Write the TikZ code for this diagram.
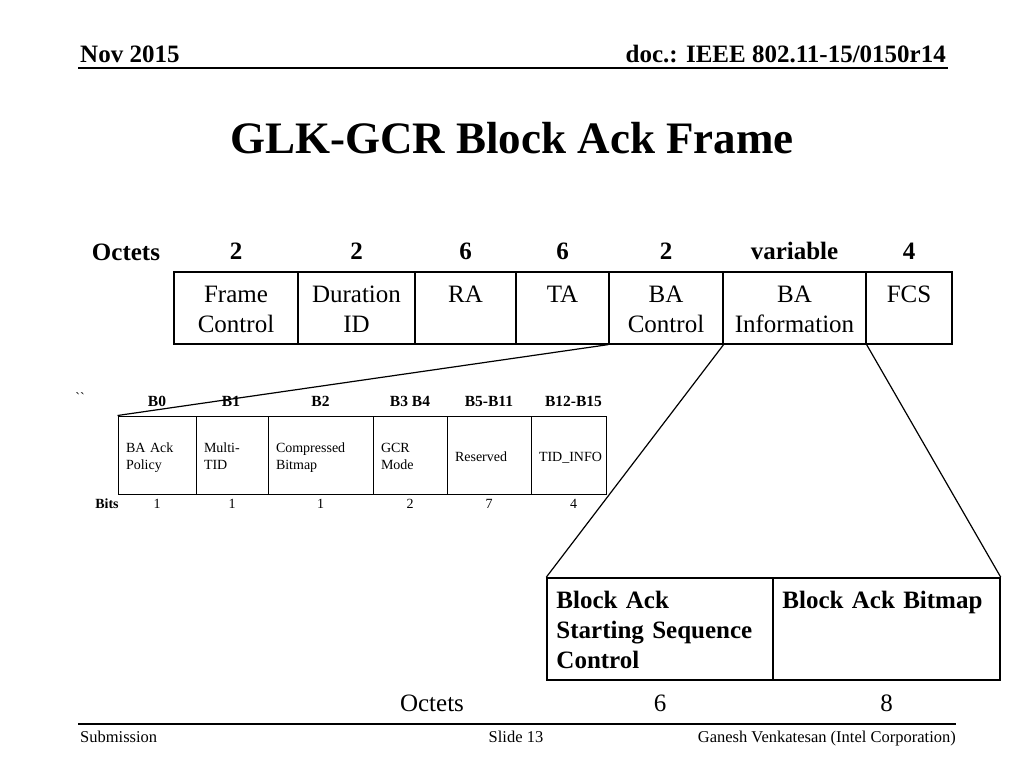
\documentclass[tikz,border=0pt]{standalone}
\usepackage{fontspec}
\setmainfont{Liberation Serif}
\usetikzlibrary{positioning}

\newcommand\headfont{\fontsize{25}{30}\selectfont\bfseries}
\newcommand\slidetitlefont{\fontsize{45}{54}\selectfont\bfseries}
\newcommand\fieldfont{\fontsize{25}{30}\selectfont}
\newcommand\bitfont{\fontsize{14}{17}\selectfont}
\newcommand\bitheadfont{\fontsize{15.5}{18}\selectfont\bfseries}
\newcommand\footfont{\fontsize{16.5}{20}\selectfont}

\begin{document}
\begin{tikzpicture}[x=1pt,y=-1pt,
  field/.style={draw,line width=1.2pt,minimum width=#1,minimum height=72pt,inner sep=0pt},
  toptext/.style={anchor=north,text width=140pt,align=center,inner sep=0pt,text height=18pt,yshift=-13pt,font=\fieldfont},
  octnum/.style={font=\headfont,inner sep=0pt},
  bitfield/.style={draw,line width=1pt,text width=#1,minimum height=78pt,inner xsep=8pt,inner ysep=0pt,
    text height=10pt,text depth=15pt,align=left,font=\bitfont},
  oneline/.style={text height=13pt,text depth=0pt},
  bithead/.style={font=\bitheadfont,inner sep=0pt},
  bitnum/.style={font=\bitfont,inner sep=0pt},
  seqfield/.style={draw,line width=1.5pt,minimum width=#1,minimum height=102pt,inner sep=0pt},
  seqtext/.style={anchor=north west,text width=210pt,align=left,inner sep=0pt,text height=18pt,xshift=10pt,yshift=-13pt,font=\fieldfont\bfseries}]

\path[fill=white,use as bounding box] (0,0) rectangle (1024,768);

% slide header and title
\node[anchor=base west,font=\headfont,inner sep=0pt] (date) at (80,63) {Nov 2015};
\node[anchor=base east,font=\headfont,inner sep=0pt] (doc) at (946,63) {doc.: IEEE 802.11-15/0150r14};
\draw[line width=2pt] (78,68) -- (948,68);
\node[font=\slidetitlefont] (title) at (512,138) {GLK-GCR Block Ack Frame};

% frame fields
\node[field=124pt,label={[toptext]north:Frame\\Control}] (fc) at (236,308) {};
\node[field=117pt,label={[toptext]north:Duration\\ID}] (dur) at (356.5,308) {};
\node[field=101pt,label={[toptext]north:RA}] (ra) at (465.5,308) {};
\node[field=93pt,label={[toptext]north:TA}] (ta) at (562.5,308) {};
\node[field=114pt,label={[toptext]north:BA\\Control}] (bactl) at (666,308) {};
\node[field=143pt,label={[toptext]north:BA\\Information}] (bainfo) at (794.5,308) {};
\node[field=86pt,label={[toptext]north:FCS}] (fcs) at (909,308) {};

\node[octnum,anchor=base] (octets) at (126,260.5) {Octets};
\node[octnum,above=11.5pt of fc] (nfc) {2};
\node[octnum,above=11.5pt of dur] (ndur) {2};
\node[octnum,above=11.5pt of ra] (nra) {6};
\node[octnum,above=11.5pt of ta] (nta) {6};
\node[octnum,above=11.5pt of bactl] (nbactl) {2};
\node[octnum,above=11.5pt of bainfo] (nbainfo) {variable};
\node[octnum,above=11.5pt of fcs] (nfcs) {4};

% BA control subfields
\node[bitfield=62pt] (policy) at (157,455) {BA Ack\\Policy};
\node[bitfield=56pt] (multi) at (232,455) {Multi-\\TID};
\node[bitfield=89pt] (compr) at (320.5,455) {Compressed\\Bitmap};
\node[bitfield=58pt] (gcr) at (410,455) {GCR\\Mode};
\node[bitfield=68pt,oneline] (resv) at (489,455) {Reserved};
\node[bitfield=59pt,oneline] (tid) at (568.5,455) {TID\_INFO};

\node[bitnum] (tick) at (80,398) {\textasciigrave\textasciigrave};
\node[bithead,above=8.5pt of policy] (bpolicy) {B0};
\node[bithead,above=8.5pt of multi,xshift=-1pt] (bmulti) {B1};
\node[bithead,above=8.5pt of compr] (bcompr) {B2};
\node[bithead,above=8.5pt of gcr] (bgcr) {B3 B4};
\node[bithead,above=8.5pt of resv] (bresv) {B5-B11};
\node[bithead,above=8.5pt of tid,xshift=5pt] (btid) {B12-B15};

\node[bitnum,font=\bitfont\bfseries,anchor=base] (bits) at (107,508.5) {Bits};
\node[bitnum,below=5pt of policy] (lpolicy) {1};
\node[bitnum,below=5pt of multi] (lmulti) {1};
\node[bitnum,below=5pt of compr] (lcompr) {1};
\node[bitnum,below=5pt of gcr] (lgcr) {2};
\node[bitnum,below=5pt of resv] (lresv) {7};
\node[bitnum,below=5pt of tid,xshift=5pt] (ltid) {4};

% BA information subfields
\node[seqfield=226pt,label={[seqtext]north west:Block Ack\\Starting Sequence\\Control}] (ssc) at (660,629) {};
\node[seqfield=227pt,label={[seqtext]north west:Block Ack Bitmap}] (bitmap) at (886.5,629) {};

\node[font=\fieldfont,inner sep=0pt,anchor=base] (octets2) at (432,711) {Octets};
\node[font=\fieldfont,inner sep=0pt,below=14pt of ssc] (nssc) {6};
\node[font=\fieldfont,inner sep=0pt,below=14pt of bitmap] (nbitmap) {8};

\draw[line width=1.2pt] (bactl.south west) to (policy.north west);
\draw[line width=1.2pt] (bactl.south east) to (ssc.north west);
\draw[line width=1.2pt] (bainfo.south east) to (bitmap.north east);

% footer
\draw[line width=2pt] (78,724) -- (956,724);
\node[anchor=base west,font=\footfont,inner sep=0pt] (sub) at (80,742.5) {Submission};
\node[anchor=base,font=\footfont,inner sep=0pt] (slide) at (516,742.5) {Slide 13};
\node[anchor=base east,font=\footfont,inner sep=0pt] (author) at (956,742.5) {Ganesh Venkatesan (Intel Corporation)};
\end{tikzpicture}
\end{document}
